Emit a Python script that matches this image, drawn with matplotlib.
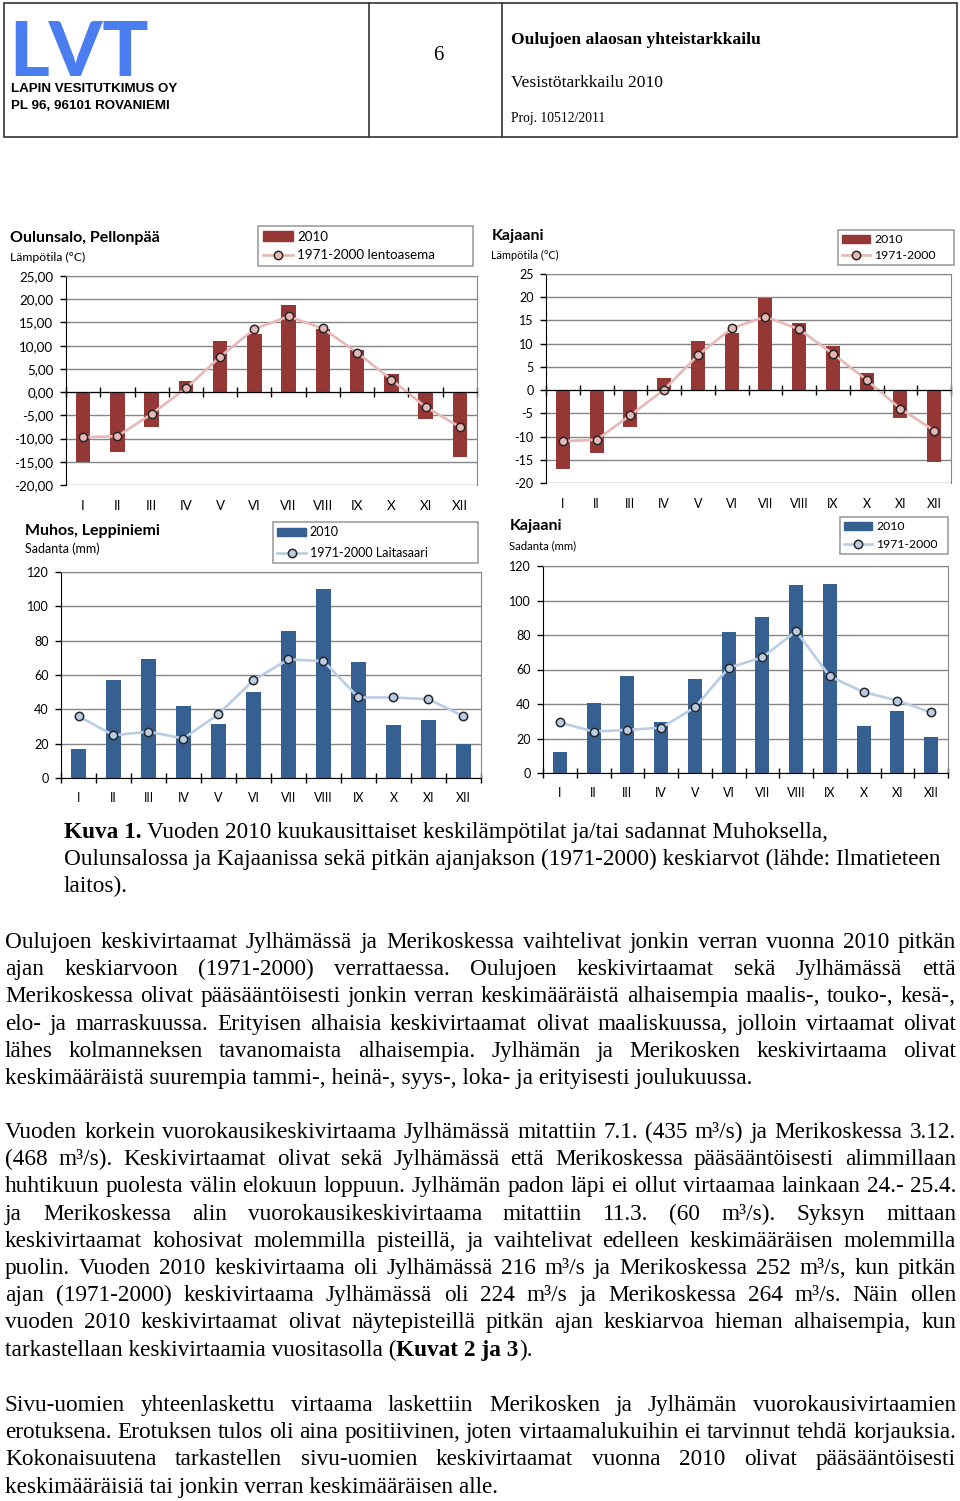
import matplotlib
matplotlib.use("Agg")
import matplotlib.pyplot as plt
from matplotlib.lines import Line2D
from matplotlib.patches import Rectangle
import numpy as np

W, H = 960, 1501
SANS = "Lato"
SERIF = "Liberation Serif"
ARIAL = "Liberation Sans"

months = ["I", "II", "III", "IV", "V", "VI", "VII", "VIII", "IX", "X", "XI", "XII"]

oulunsalo_2010 = [-15.0, -13.0, -7.5, 2.4, 11.0, 12.5, 18.8, 13.6, 9.1, 3.9, -5.7, -13.9]
oulunsalo_avg = [-9.7, -9.5, -4.7, 0.8, 7.6, 13.6, 16.3, 13.7, 8.5, 2.7, -3.2, -7.5]
kajaani_temp_2010 = [-17.0, -13.5, -7.9, 2.6, 10.6, 12.3, 19.8, 14.5, 9.4, 3.7, -5.9, -15.4]
kajaani_temp_avg = [-11.0, -10.7, -5.4, 0.1, 7.5, 13.3, 15.8, 13.1, 7.8, 2.2, -4.0, -8.7]
muhos_rain_2010 = [17.0, 57.2, 69.6, 42.0, 31.7, 50.2, 85.8, 109.9, 67.7, 30.7, 33.5, 20.0]
laitasaari_rain_avg = [36.0, 24.9, 27.0, 23.0, 37.2, 57.0, 69.1, 68.1, 46.9, 46.9, 45.9, 36.0]
kajaani_rain_2010 = [12.2, 40.7, 56.0, 29.5, 54.7, 82.0, 90.5, 108.7, 109.3, 27.3, 36.2, 20.7]
kajaani_rain_avg = [29.3, 24.0, 25.0, 26.2, 38.0, 61.0, 67.0, 82.2, 56.0, 46.9, 42.0, 35.1]

RED = "#953735"
PINK = "#E6B9B8"
BLUE = "#376092"
LIGHTBLUE = "#B9CDE5"
GRID = "#868686"

caption = [
    [("Kuva 1.", "bold"), ("Vuoden 2010 kuukausittaiset keskilämpötilat ja/tai sadannat Muhoksella,", "normal")],
    [("Oulunsalossa ja Kajaanissa sekä pitkän ajanjakson (1971-2000) keskiarvot (lähde: Ilmatieteen", "normal")],
    [("laitos).", "normal")],
]

para1 = [
    "Oulujoen keskivirtaamat Jylhämässä ja Merikoskessa vaihtelivat jonkin verran vuonna 2010 pitkän",
    "ajan keskiarvoon (1971-2000) verrattaessa. Oulujoen keskivirtaamat sekä Jylhämässä että",
    "Merikoskessa olivat pääsääntöisesti jonkin verran keskimääräistä alhaisempia maalis-, touko-, kesä-,",
    "elo- ja marraskuussa. Erityisen alhaisia keskivirtaamat olivat maaliskuussa, jolloin virtaamat olivat",
    "lähes kolmanneksen tavanomaista alhaisempia. Jylhämän ja Merikosken keskivirtaama olivat",
    "keskimääräistä suurempia tammi-, heinä-, syys-, loka- ja erityisesti joulukuussa.",
]
para2 = [
    "Vuoden korkein vuorokausikeskivirtaama Jylhämässä mitattiin 7.1. (435 m³/s) ja Merikoskessa 3.12.",
    "(468 m³/s). Keskivirtaamat olivat sekä Jylhämässä että Merikoskessa pääsääntöisesti alimmillaan",
    "huhtikuun puolesta välin elokuun loppuun. Jylhämän padon läpi ei ollut virtaamaa lainkaan 24.- 25.4.",
    "ja Merikoskessa alin vuorokausikeskivirtaama mitattiin 11.3. (60 m³/s). Syksyn mittaan",
    "keskivirtaamat kohosivat molemmilla pisteillä, ja vaihtelivat edelleen keskimääräisen molemmilla",
    "puolin.  Vuoden 2010 keskivirtaama oli Jylhämässä 216 m³/s ja Merikoskessa 252 m³/s, kun pitkän",
    "ajan (1971-2000) keskivirtaama  Jylhämässä oli 224 m³/s  ja Merikoskessa 264 m³/s. Näin ollen",
    "vuoden 2010 keskivirtaamat olivat näytepisteillä pitkän ajan keskiarvoa hieman alhaisempia, kun",
]
para2_last = [("tarkastellaan keskivirtaamia vuositasolla (", "normal"), ("Kuvat 2 ja 3", "bold"), (").", "normal")]
para3 = [
    "Sivu-uomien yhteenlaskettu virtaama laskettiin Merikosken ja Jylhämän vuorokausivirtaamien",
    "erotuksena. Erotuksen tulos oli aina positiivinen, joten virtaamalukuihin ei tarvinnut tehdä korjauksia.",
    "Kokonaisuutena tarkastellen sivu-uomien keskivirtaamat vuonna 2010 olivat pääsääntöisesti",
    "keskimääräisiä tai jonkin verran keskimääräisen alle.",
]

fig = plt.figure(figsize=(W / 100, H / 100), dpi=100)
renderer = fig.canvas.get_renderer()


def fx(x):
    return x / W


def fy(y):
    return 1 - y / H


def px_rect(left, top, right, bottom):
    return [left / W, 1 - bottom / H, (right - left) / W, (bottom - top) / H]


def text_width(s, size, weight="normal", family=SERIF):
    t = fig.text(0, 0, s, fontsize=size, fontweight=weight, family=family)
    w = t.get_window_extent(renderer).width
    t.remove()
    return w


# header box
fig.add_artist(Rectangle((fx(4), fy(137)), fx(953), 134 / H, transform=fig.transFigure,
                         fill=False, edgecolor="#333333", lw=1.2))
for xv in (369, 502):
    fig.add_artist(Line2D([fx(xv), fx(xv)], [fy(3), fy(137)], transform=fig.transFigure,
                          color="#333333", lw=1.2))
fig.text(fx(9), fy(76), "LVT", fontsize=55, fontweight="black", family=SANS, color="#4A7DF0",
         va="baseline")
fig.text(fx(11), fy(92), "LAPIN VESITUTKIMUS OY", fontsize=9.6, fontweight="bold", family=ARIAL,
         va="baseline")
fig.text(fx(11), fy(109), "PL 96, 96101 ROVANIEMI", fontsize=9.6, fontweight="bold", family=ARIAL,
         va="baseline")
fig.text(fx(438), fy(56), "6", fontsize=15, family=SERIF, ha="center", va="center")
fig.text(fx(511), fy(44), "Oulujoen alaosan yhteistarkkailu", fontsize=12.6, fontweight="bold",
         family=SERIF, va="baseline")
fig.text(fx(511), fy(87), "Vesistötarkkailu 2010", fontsize=12.6, family=SERIF, va="baseline")
fig.text(fx(511), fy(122), "Proj. 10512/2011", fontsize=9.8, family=SERIF, va="baseline")


def month_chart(rect, bars, avg, bar_color, line_color, ymin, ymax, step, fmt, tick_size,
                label_pad):
    ax = fig.add_axes(px_rect(*rect))
    x = np.arange(1, 13)
    ax.bar(x, bars, width=0.42, color=bar_color, zorder=3)
    ax.plot(x, avg, color=line_color, lw=1.9, marker="o", ms=6, mfc=line_color,
            mec="#262626", mew=1.1, zorder=4)
    ax.set_xlim(0.5, 12.5)
    ax.set_ylim(ymin, ymax)
    yt = np.arange(ymin, ymax + step / 2, step)
    ax.set_yticks(yt)
    ax.set_yticklabels([fmt(v) for v in yt], fontsize=tick_size, family=SANS)
    ax.yaxis.grid(True, color=GRID, lw=1.0)
    ax.set_axisbelow(True)
    for s in ("top", "right"):
        ax.spines[s].set_color(GRID)
    ax.spines["left"].set_color("black")
    ax.spines["bottom"].set_color("black")
    ax.spines["bottom"].set_position(("data", 0))
    ax.spines["bottom"].set_zorder(5)
    ax.set_xticks(np.arange(0.5, 13, 1.0), labels=[])
    ax.tick_params(axis="x", direction="inout", length=7, width=1.0)
    ax.tick_params(axis="y", direction="out", length=4, width=1.0, pad=5)
    sec = ax.secondary_xaxis(0.0)
    sec.set_xticks(x, labels=months)
    sec.tick_params(length=0, pad=label_pad, labelsize=tick_size)
    for lab in sec.get_xticklabels():
        lab.set_family(SANS)
    sec.spines["bottom"].set_visible(False)
    return ax


def chart_legend(ax, box, labels, bar_color, line_color, size, spacing):
    left, top, right, bottom = box
    handles = [
        Rectangle((0, 0), 1, 1, color=bar_color),
        Line2D([], [], color=line_color, lw=1.9, marker="o", ms=6, mfc=line_color,
               mec="#262626", mew=1.1),
    ]
    leg = ax.legend(handles, labels, loc="upper left",
                    bbox_to_anchor=(fx(left), fy(bottom), (right - left) / W, (bottom - top) / H),
                    bbox_transform=fig.transFigure, mode="expand", frameon=True, fancybox=False,
                    edgecolor=GRID, prop={"family": SANS, "size": size},
                    handlelength=2.3, handleheight=0.7, handletextpad=0.3, labelspacing=spacing,
                    borderpad=0.35, borderaxespad=0)
    leg.get_frame().set_linewidth(1.2)


def comma2(v):
    return f"{v:.2f}".replace(".", ",")


def plain(v):
    return f"{v:.0f}"


ax1 = month_chart((66, 276, 477, 485), oulunsalo_2010, oulunsalo_avg, RED, PINK,
                  -20, 25, 5, comma2, 9.6, 11)
chart_legend(ax1, (258, 226, 473, 267), ["2010", "1971-2000 lentoasema"], RED, PINK, 9.6, 0.5)
fig.text(fx(10), fy(242), "Oulunsalo, Pellonpää", fontsize=11.5, fontweight="bold",
         family=SANS, va="baseline")
fig.text(fx(10), fy(261), "Lämpötila (°C)", fontsize=8.8, family=SANS, va="baseline")

ax2 = month_chart((546, 274, 951, 483), kajaani_temp_2010, kajaani_temp_avg, RED, PINK,
                  -20, 25, 5, plain, 9.0, 11)
chart_legend(ax2, (838, 230, 954, 266), ["2010", "1971-2000"], RED, PINK, 8.8, 0.4)
fig.text(fx(492), fy(240), "Kajaani", fontsize=11.5, fontweight="bold", family=SANS,
         va="baseline")
fig.text(fx(491), fy(259), "Lämpötila (°C)", fontsize=7.8, family=SANS, va="baseline")

ax3 = month_chart((61, 572, 481, 778), muhos_rain_2010, laitasaari_rain_avg, BLUE, LIGHTBLUE,
                  0, 120, 20, plain, 9.0, 10)
chart_legend(ax3, (273, 522, 478, 565), ["2010", "1971-2000 Laitasaari"], BLUE, LIGHTBLUE,
             9.0, 0.68)
fig.text(fx(25), fy(535), "Muhos, Leppiniemi", fontsize=11.5, fontweight="bold", family=SANS,
         va="baseline")
fig.text(fx(25), fy(553), "Sadanta (mm)", fontsize=9.0, family=SANS, va="baseline")

ax4 = month_chart((543, 566, 948, 773), kajaani_rain_2010, kajaani_rain_avg, BLUE, LIGHTBLUE,
                  0, 120, 20, plain, 9.0, 10)
chart_legend(ax4, (840, 517, 948, 556), ["2010", "1971-2000"], BLUE, LIGHTBLUE, 8.8, 0.55)
fig.text(fx(510), fy(530), "Kajaani", fontsize=11.5, fontweight="bold", family=SANS,
         va="baseline")
fig.text(fx(509), fy(549), "Sadanta (mm)", fontsize=8.2, family=SANS, va="baseline")

# body text, justified between x=5 and x=956
LEFT, RIGHT = 5, 956
PITCH = 27.2
justified = para1[:-1] + para2 + para3[:-1]
widest = max(text_width(" ".join(l.split()), 10) for l in justified)
BODY = 10 * (RIGHT - LEFT) / widest * 0.998
space_w = text_width("a a", BODY) - text_width("aa", BODY)


def justify_line(line, y):
    words = line.split()
    widths = [text_width(wd, BODY) for wd in words]
    gap = (RIGHT - LEFT - sum(widths)) / (len(words) - 1)
    x = LEFT
    for wd, w in zip(words, widths):
        fig.text(fx(x), fy(y), wd, fontsize=BODY, family=SERIF, va="baseline")
        x += w + gap


def runs_line(runs, x, y, spaced=True):
    for s, weight in runs:
        fig.text(fx(x), fy(y), s, fontsize=BODY, family=SERIF, fontweight=weight, va="baseline")
        x += text_width(s, BODY, weight)
        if spaced:
            x += space_w


def paragraph(lines, last, y0):
    for i, line in enumerate(lines):
        justify_line(line, y0 + i * PITCH)
    runs_line(last, LEFT, y0 + len(lines) * PITCH, spaced=False)


for i, runs in enumerate(caption):
    runs_line(runs, 64, 838 + i * PITCH)

paragraph(para1[:-1], [(para1[-1], "normal")], 948)
paragraph(para2, para2_last, 1138)
paragraph(para3[:-1], [(para3[-1], "normal")], 1411)

fig.savefig("out.png", dpi=100)
